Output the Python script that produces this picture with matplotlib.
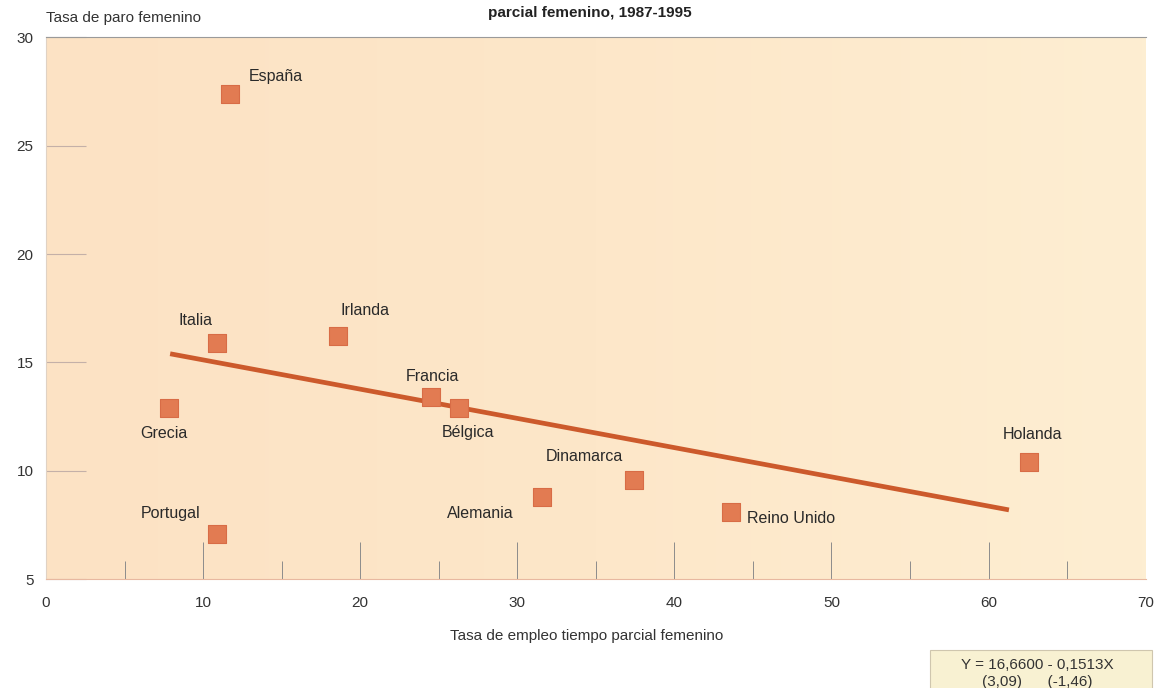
import numpy as np
import matplotlib
matplotlib.use("Agg")
import matplotlib.pyplot as plt
from matplotlib.patches import Rectangle

plt.rcParams['font.family'] = ['Liberation Sans', 'DejaVu Sans']

# Data
paises = ["España", "Italia", "Irlanda", "Grecia", "Francia", "Bélgica",
          "Portugal", "Alemania", "Dinamarca", "Reino Unido", "Holanda"]
tiempo_parcial = [11.7, 10.9, 18.6, 7.8, 24.5, 26.3, 10.9, 31.6, 37.4, 43.6, 62.6]
paro = [27.4, 15.9, 16.2, 12.9, 13.4, 12.9, 7.1, 8.8, 9.6, 8.1, 10.4]

# regression line as drawn (end points)
recta_x = [7.9, 61.3]
recta_y = [15.4, 8.2]

# label offsets in pixels (dx, dy) and alignment
offsets = {
    "España": (19, 17, "left"),
    "Italia": (-22, 22, "center"),
    "Irlanda": (27, 26, "center"),
    "Grecia": (-5, -26, "center"),
    "Francia": (2, 21, "center"),
    "Bélgica": (9, -25, "center"),
    "Portugal": (-47, 20, "center"),
    "Alemania": (-62, -17, "center"),
    "Dinamarca": (-49, 23, "center"),
    "Reino Unido": (16, -6, "left"),
    "Holanda": (3, 28, "center"),
}

fig = plt.figure(figsize=(11.66, 6.88), dpi=100)
ax = fig.add_axes([0.0395, 0.158, 0.943, 0.788])

# peach background, a bit lighter towards the right
grad = np.linspace(0, 1, 256).reshape(1, -1)
cmap = matplotlib.colors.LinearSegmentedColormap.from_list(
    "fondo", ["#fce2c4", "#fde7c9", "#fdeed2"])
ax.imshow(grad, extent=[0, 1, 0, 1], transform=ax.transAxes, cmap=cmap,
          aspect="auto", zorder=0)

ax.plot(recta_x, recta_y, color="#cc5a2c", lw=3.4, solid_capstyle="butt", zorder=2)
ax.scatter(tiempo_parcial, paro, marker="s", s=150, color="#e27b52",
           edgecolor="#d86c46", linewidth=0.8, zorder=3)

for p, x, y in zip(paises, tiempo_parcial, paro):
    dx, dy, ha = offsets[p]
    ax.annotate(p, (x, y), xytext=(dx, dy), textcoords="offset pixels",
                ha=ha, va="center", fontsize=11.5, color="#2a2a2a")

ax.set_xlim(0, 70)
ax.set_ylim(5, 30)
ax.set_xticks(range(0, 71, 10))
ax.set_xticks(range(5, 70, 10), minor=True)
ax.set_yticks(range(5, 31, 5))

ax.tick_params(axis="x", which="major", direction="in", length=27, width=0.7,
               color="#8c8c8c", pad=12, labelsize=11, labelcolor="#333333")
ax.tick_params(axis="x", which="minor", direction="in", length=13, width=0.7,
               color="#8c8c8c")
ax.tick_params(axis="y", which="major", direction="in", length=29, width=0.8,
               color="#c4b0a8", pad=9, labelsize=11, labelcolor="#333333")
# no tick mark at the right end of the x axis
ax.xaxis.get_major_ticks()[-1].tick1line.set_visible(False)

ax.spines["right"].set_visible(False)
ax.spines["top"].set_color("#9a9a9a")
ax.spines["top"].set_linewidth(0.8)
ax.spines["left"].set_color("#e0d2c4")
ax.spines["bottom"].set_color("#e8b8a0")

fig.text(0.0395, 0.974, "Tasa de paro femenino", fontsize=11, color="#333333",
         ha="left", va="center")
fig.text(0.506, 0.981, "parcial femenino, 1987-1995", fontsize=11,
         fontweight="bold", color="#222222", ha="center", va="center")
fig.text(0.503, 0.075, "Tasa de empleo tiempo parcial femenino", fontsize=11,
         color="#333333", ha="center", va="center")

# equation box
fig.patches.append(Rectangle((0.798, -0.01), 0.19, 0.065, transform=fig.transFigure,
                             facecolor="#f8f1d2", edgecolor="#cfc6ae", lw=0.8))
fig.text(0.89, 0.033, "Y = 16,6600 - 0,1513X", fontsize=11, color="#333333",
         ha="center", va="center")
fig.text(0.89, 0.009, "(3,09)      (-1,46)", fontsize=11, color="#333333",
         ha="center", va="center")

fig.savefig("out.png", dpi=100)
